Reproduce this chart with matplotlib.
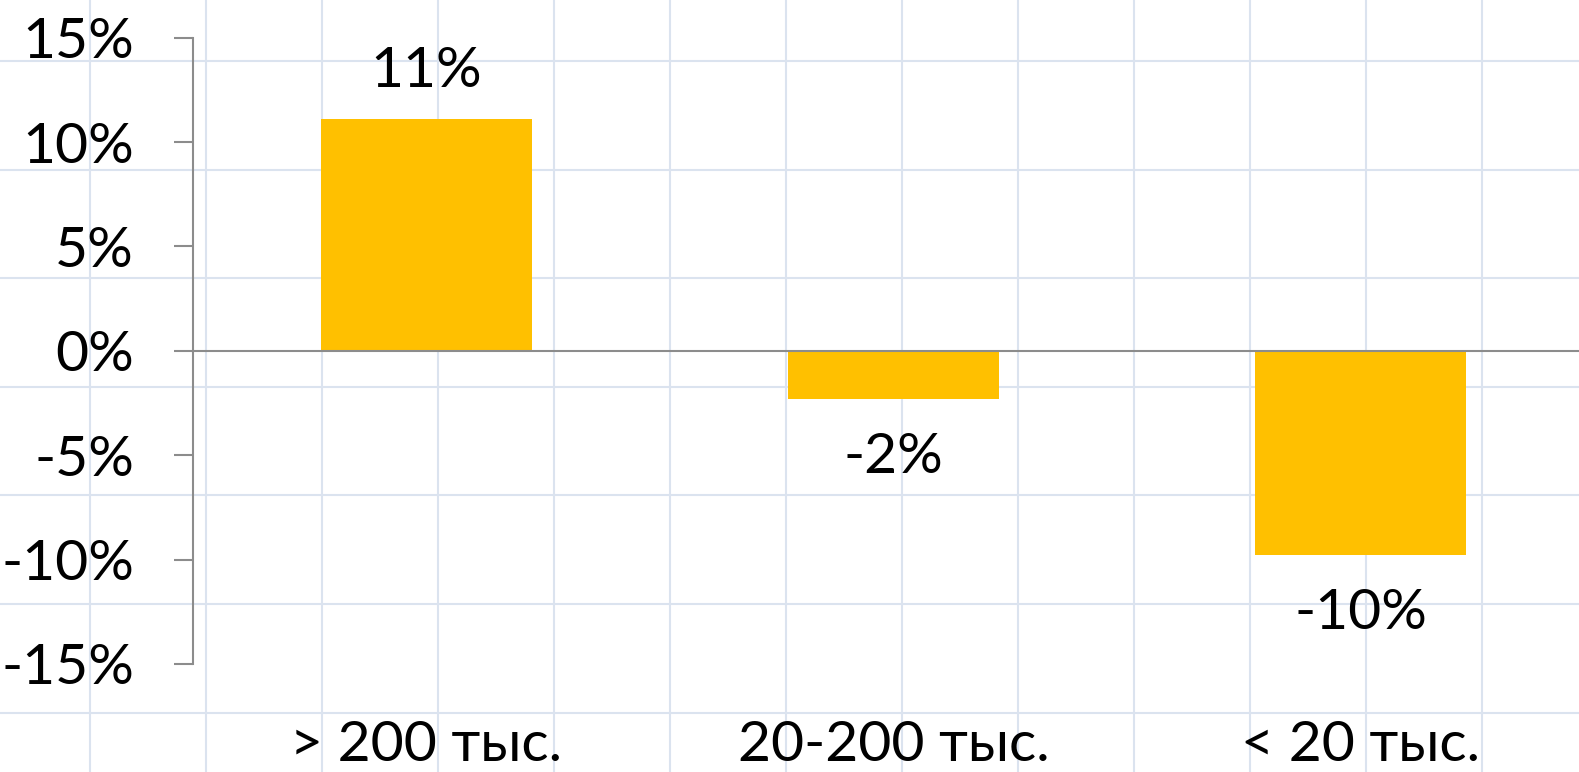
import matplotlib
matplotlib.use("Agg")
import matplotlib.pyplot as plt
from matplotlib.lines import Line2D

categories = ["> 200 тыс.", "20-200 тыс.", "< 20 тыс."]
values = [11.1, -2.3, -9.8]
value_labels = ["11%", "-2%", "-10%"]
yticks = [-15, -10, -5, 0, 5, 10, 15]
ytick_labels = ["-15%", "-10%", "-5%", "0%", "5%", "10%", "15%"]

W, H = 1579, 772
plt.rcParams['font.family'] = ['Lato', 'DejaVu Sans']
fig = plt.figure(figsize=(W / 100, H / 100), dpi=100)
fig.patch.set_facecolor("white")

# spreadsheet cell grid in the background
grid_color = "#dbe3ef"
x = 90
while x < W:
    fig.add_artist(Line2D([x / W, x / W], [0, 1], transform=fig.transFigure,
                          color=grid_color, lw=1.5, zorder=0))
    x += 116
y = 61
while y < H:
    fig.add_artist(Line2D([0, 1], [1 - y / H, 1 - y / H], transform=fig.transFigure,
                          color=grid_color, lw=1.5, zorder=0))
    y += 108.6

left = 193 / W
right = 1594 / W
bottom = 1 - 664 / H
top = 1 - 37.7 / H
ax = fig.add_axes([left, bottom, right - left, top - bottom])
ax.set_facecolor("none")
ax.set_zorder(1)

xs = range(len(categories))
ax.bar(xs, values, width=0.45, color="#ffc000", zorder=2)
ax.axhline(0, color="#8c8c8c", lw=1.5, zorder=3, clip_on=False)

ax.set_xlim(-0.5, 2.5)
ax.set_ylim(-15, 15)
ax.set_yticks(yticks)
ax.set_yticklabels(ytick_labels)
ax.set_xticks(list(xs))
ax.set_xticklabels(categories)

for s in ["top", "right", "bottom"]:
    ax.spines[s].set_visible(False)
ax.spines["left"].set_color("#8c8c8c")
ax.spines["left"].set_linewidth(1.5)

ax.tick_params(axis="y", length=13.5, width=1.5, color="#8c8c8c", pad=29,
               labelsize=41, labelcolor="black")
ax.tick_params(axis="x", length=0, pad=40, labelsize=41, labelcolor="black")

for i, (v, lab) in enumerate(zip(values, value_labels)):
    off = 34 if v >= 0 else -42
    ax.annotate(lab, (i, v), xytext=(0, off), textcoords="offset points",
                ha="center", va="center", fontsize=41, color="black")

fig.savefig("out.png", dpi=100, facecolor="white")
